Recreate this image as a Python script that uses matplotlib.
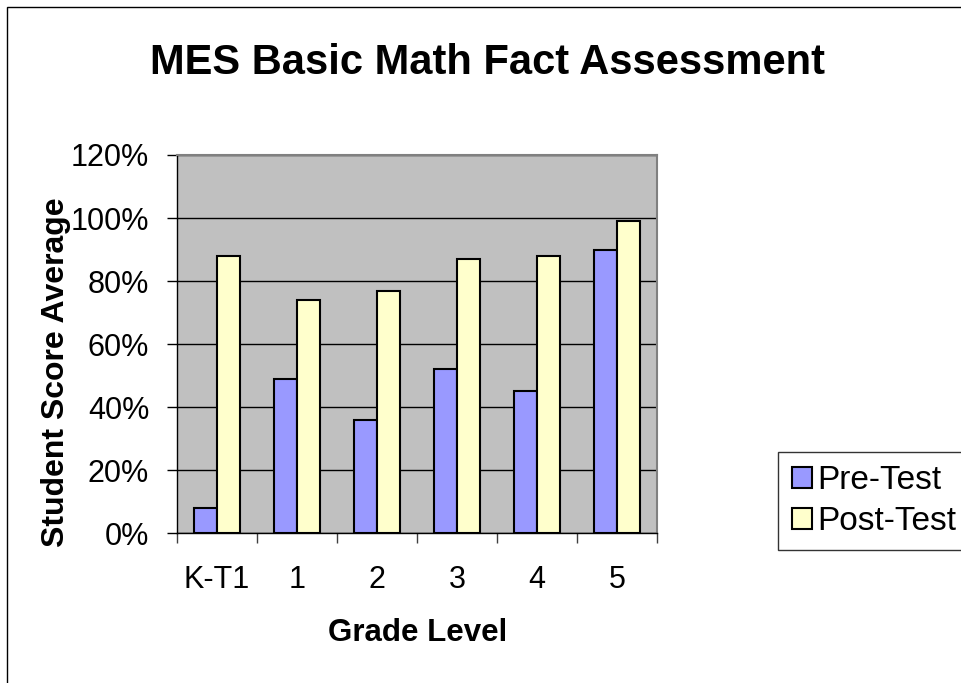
import numpy as np
import matplotlib.pyplot as plt
from matplotlib.patches import Rectangle
from matplotlib.ticker import FixedLocator

plt.rcParams['font.family'] = ['Liberation Sans', 'DejaVu Sans']

grades = ['K-T1', '1', '2', '3', '4', '5']
pre_test = [8, 49, 36, 52, 45, 90]
post_test = [88, 74, 77, 87, 88, 99]
y_ticks = [0, 20, 40, 60, 80, 100, 120]

W, H = 961, 683
fig = plt.figure(figsize=(W / 100, H / 100), dpi=100)
ax = fig.add_axes([177 / W, 1 - 533.3 / H, 480 / W, 378.3 / H])
ax.set_facecolor('#C0C0C0')

x = np.arange(len(grades))
w = 1 / 3.5
ax.bar(x - w / 2, pre_test, w, color='#9999FF', edgecolor='black', linewidth=1.5,
       label='Pre-Test', zorder=3)
ax.bar(x + w / 2, post_test, w, color='#FFFFCC', edgecolor='black', linewidth=1.5,
       label='Post-Test', zorder=3)

ax.set_xlim(-0.5, len(grades) - 0.5)
ax.set_ylim(0, 120)
ax.set_yticks(y_ticks)
ax.set_yticklabels([f'{v}%' for v in y_ticks], fontsize=22)
ax.yaxis.grid(True, color='black', linewidth=1, zorder=0)
ax.set_axisbelow(True)

ax.set_xticks(x)
ax.set_xticklabels(grades, fontsize=22)
ax.xaxis.set_minor_locator(FixedLocator(np.arange(-0.5, len(grades), 1)))
ax.tick_params(axis='x', which='major', length=0, pad=23)
ax.tick_params(axis='x', which='minor', length=7, width=1, color='#404040')
ax.tick_params(axis='y', length=7, width=1, pad=13)

for side in ['top', 'right']:
    ax.spines[side].set_color('#808080')
    ax.spines[side].set_linewidth(1.5)
for side in ['left', 'bottom']:
    ax.spines[side].set_color('black')
    ax.spines[side].set_linewidth(1)

fig.text(418 / W, 1 - 633 / H, 'Grade Level', fontsize=22.5, fontweight='bold',
         ha='center', va='center')
fig.text(56 / W, 1 - 372 / H, 'Student Score Average', fontsize=23,
         fontweight='bold', rotation=90, ha='center', va='center')
fig.text(488 / W, 1 - 63 / H, 'MES Basic Math Fact Assessment', fontsize=30,
         fontweight='bold', ha='center', va='center')

leg = ax.legend(loc='center left', bbox_to_anchor=(1.253, 0.085), fontsize=24,
                frameon=True, fancybox=False, edgecolor='black', handlelength=0.6,
                handleheight=0.6, handletextpad=0.15, borderpad=0.4,
                labelspacing=0.3, borderaxespad=0)
leg.get_frame().set_linewidth(1)

fig.patches.append(Rectangle((7 / W, -0.1), 1.2, 1 - 7 / H + 0.1,
                             transform=fig.transFigure, fill=False,
                             edgecolor='black', linewidth=1))

fig.savefig('out.png', dpi=100)
